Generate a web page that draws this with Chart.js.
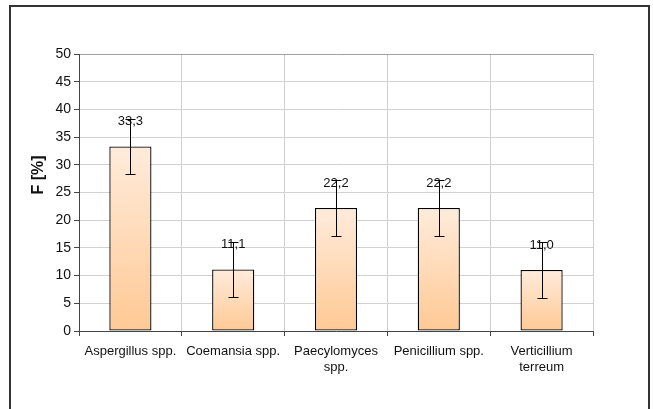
<!DOCTYPE html>
<html>
<head>
<meta charset="utf-8">
<script src="https://cdn.jsdelivr.net/npm/chart.js@4.4.1/dist/chart.umd.min.js"></script>
<style>
  html, body { margin: 0; padding: 0; background: #fff; }
  #wrap { width: 653px; height: 409px; }
</style>
</head>
<body>
<div id="wrap"><canvas id="fungiChart" width="653" height="409"></canvas></div>
<script>
// data
const categories = ['Aspergillus spp.', 'Coemansia spp.', ['Paecylomyces', 'spp.'], 'Penicillium spp.', ['Verticillium', 'terreum']];
const frequency = [33.3, 11.1, 22.2, 22.2, 11.0];
const errorSize = [5, 5, 5, 5, 5];
const yTicks = [0, 5, 10, 15, 20, 25, 30, 35, 40, 45, 50];
const yTitle = 'F [%]';

const FONT = "'Liberation Sans', Arial, sans-serif";

// frame around the whole picture
const framePlugin = {
    id: 'frame',
    beforeDraw(chart) {
        const c = chart.ctx;
        c.save();
        c.fillStyle = '#fff';
        c.fillRect(0, 0, chart.width, chart.height);
        c.strokeStyle = '#333';
        c.lineWidth = 2;
        c.strokeRect(10, 6, 639, 500);
        c.restore();
    }
};

// error bars, value labels and the y title
const extrasPlugin = {
    id: 'extras',
    afterDatasetsDraw(chart) {
        const c = chart.ctx;
        const y = chart.scales.y;
        const meta = chart.getDatasetMeta(0);
        c.save();
        c.strokeStyle = '#000';
        c.lineWidth = 1;
        meta.data.forEach((bar, i) => {
            const x = Math.round(bar.x) + 0.5;
            const hi = Math.round(y.getPixelForValue(frequency[i] + errorSize[i])) + 0.5;
            const lo = Math.round(y.getPixelForValue(frequency[i] - errorSize[i])) + 0.5;
            c.beginPath();
            c.moveTo(x, hi); c.lineTo(x, lo);
            c.moveTo(x - 5, hi); c.lineTo(x + 5, hi);
            c.moveTo(x - 5, lo); c.lineTo(x + 5, lo);
            c.stroke();
        });
        c.fillStyle = '#111';
        c.font = '13px ' + FONT;
        c.textAlign = 'center';
        c.textBaseline = 'middle';
        meta.data.forEach((bar, i) => {
            const label = frequency[i].toFixed(1).replace('.', ',');
            c.fillText(label, bar.x, y.getPixelForValue(frequency[i]) - 25);
        });
        // y title
        c.translate(39, 175);
        c.rotate(-Math.PI / 2);
        c.font = 'bold 16px ' + FONT;
        c.fillText(yTitle, 0, 0);
        c.restore();
    }
};

function barFill(ctx) {
    const chart = ctx.chart;
    const y = chart.scales.y;
    if (!y || !chart.chartArea || ctx.raw === undefined) return '#FFD9B3';
    const top = y.getPixelForValue(ctx.raw);
    const base = y.getPixelForValue(0);
    const g = chart.ctx.createLinearGradient(0, top, 0, base);
    g.addColorStop(0, '#FFEBDB');
    g.addColorStop(1, '#FFC994');
    return g;
}

const fungiChart = new Chart(document.getElementById('fungiChart').getContext('2d'), {
    type: 'bar',
    data: {
        labels: categories,
        datasets: [{
            data: frequency,
            backgroundColor: barFill,
            borderColor: '#000',
            borderWidth: 1.3,
            borderSkipped: false,
            barPercentage: 0.41,
            categoryPercentage: 1,
        }]
    },
    options: {
        responsive: false,
        animation: false,
        layout: { padding: { left: 0, top: 54, right: 60, bottom: 0 } },
        plugins: {
            legend: { display: false },
            tooltip: { enabled: false },
        },
        scales: {
            x: {
                offset: true,
                grid: {
                    offset: true,
                    color: (ctx) => ctx.index === categories.length ? '#a0a0a0' : '#cfcfcf',
                    tickColor: '#444',
                    tickLength: 5,
                },
                border: { color: '#444', width: 1 },
                ticks: {
                    color: '#111',
                    font: { family: FONT, size: 13 },
                    maxRotation: 0,
                    autoSkip: false,
                    padding: 8,
                },
                afterFit(scale) { scale.height = 78; },
            },
            y: {
                min: 0,
                max: 50,
                afterBuildTicks(scale) { scale.ticks = yTicks.map(v => ({ value: v })); },
                grid: {
                    color: (ctx) => ctx.tick && ctx.tick.value === 50 ? '#a0a0a0' : '#d2d2d2',
                    tickColor: '#444',
                    tickLength: 5,
                },
                border: { color: '#444', width: 1 },
                ticks: {
                    color: '#111',
                    font: { family: FONT, size: 14 },
                    padding: 3,
                },
                afterFit(scale) { scale.width = 79; },
            }
        }
    },
    plugins: [framePlugin, extrasPlugin],
});
</script>
</body>
</html>
